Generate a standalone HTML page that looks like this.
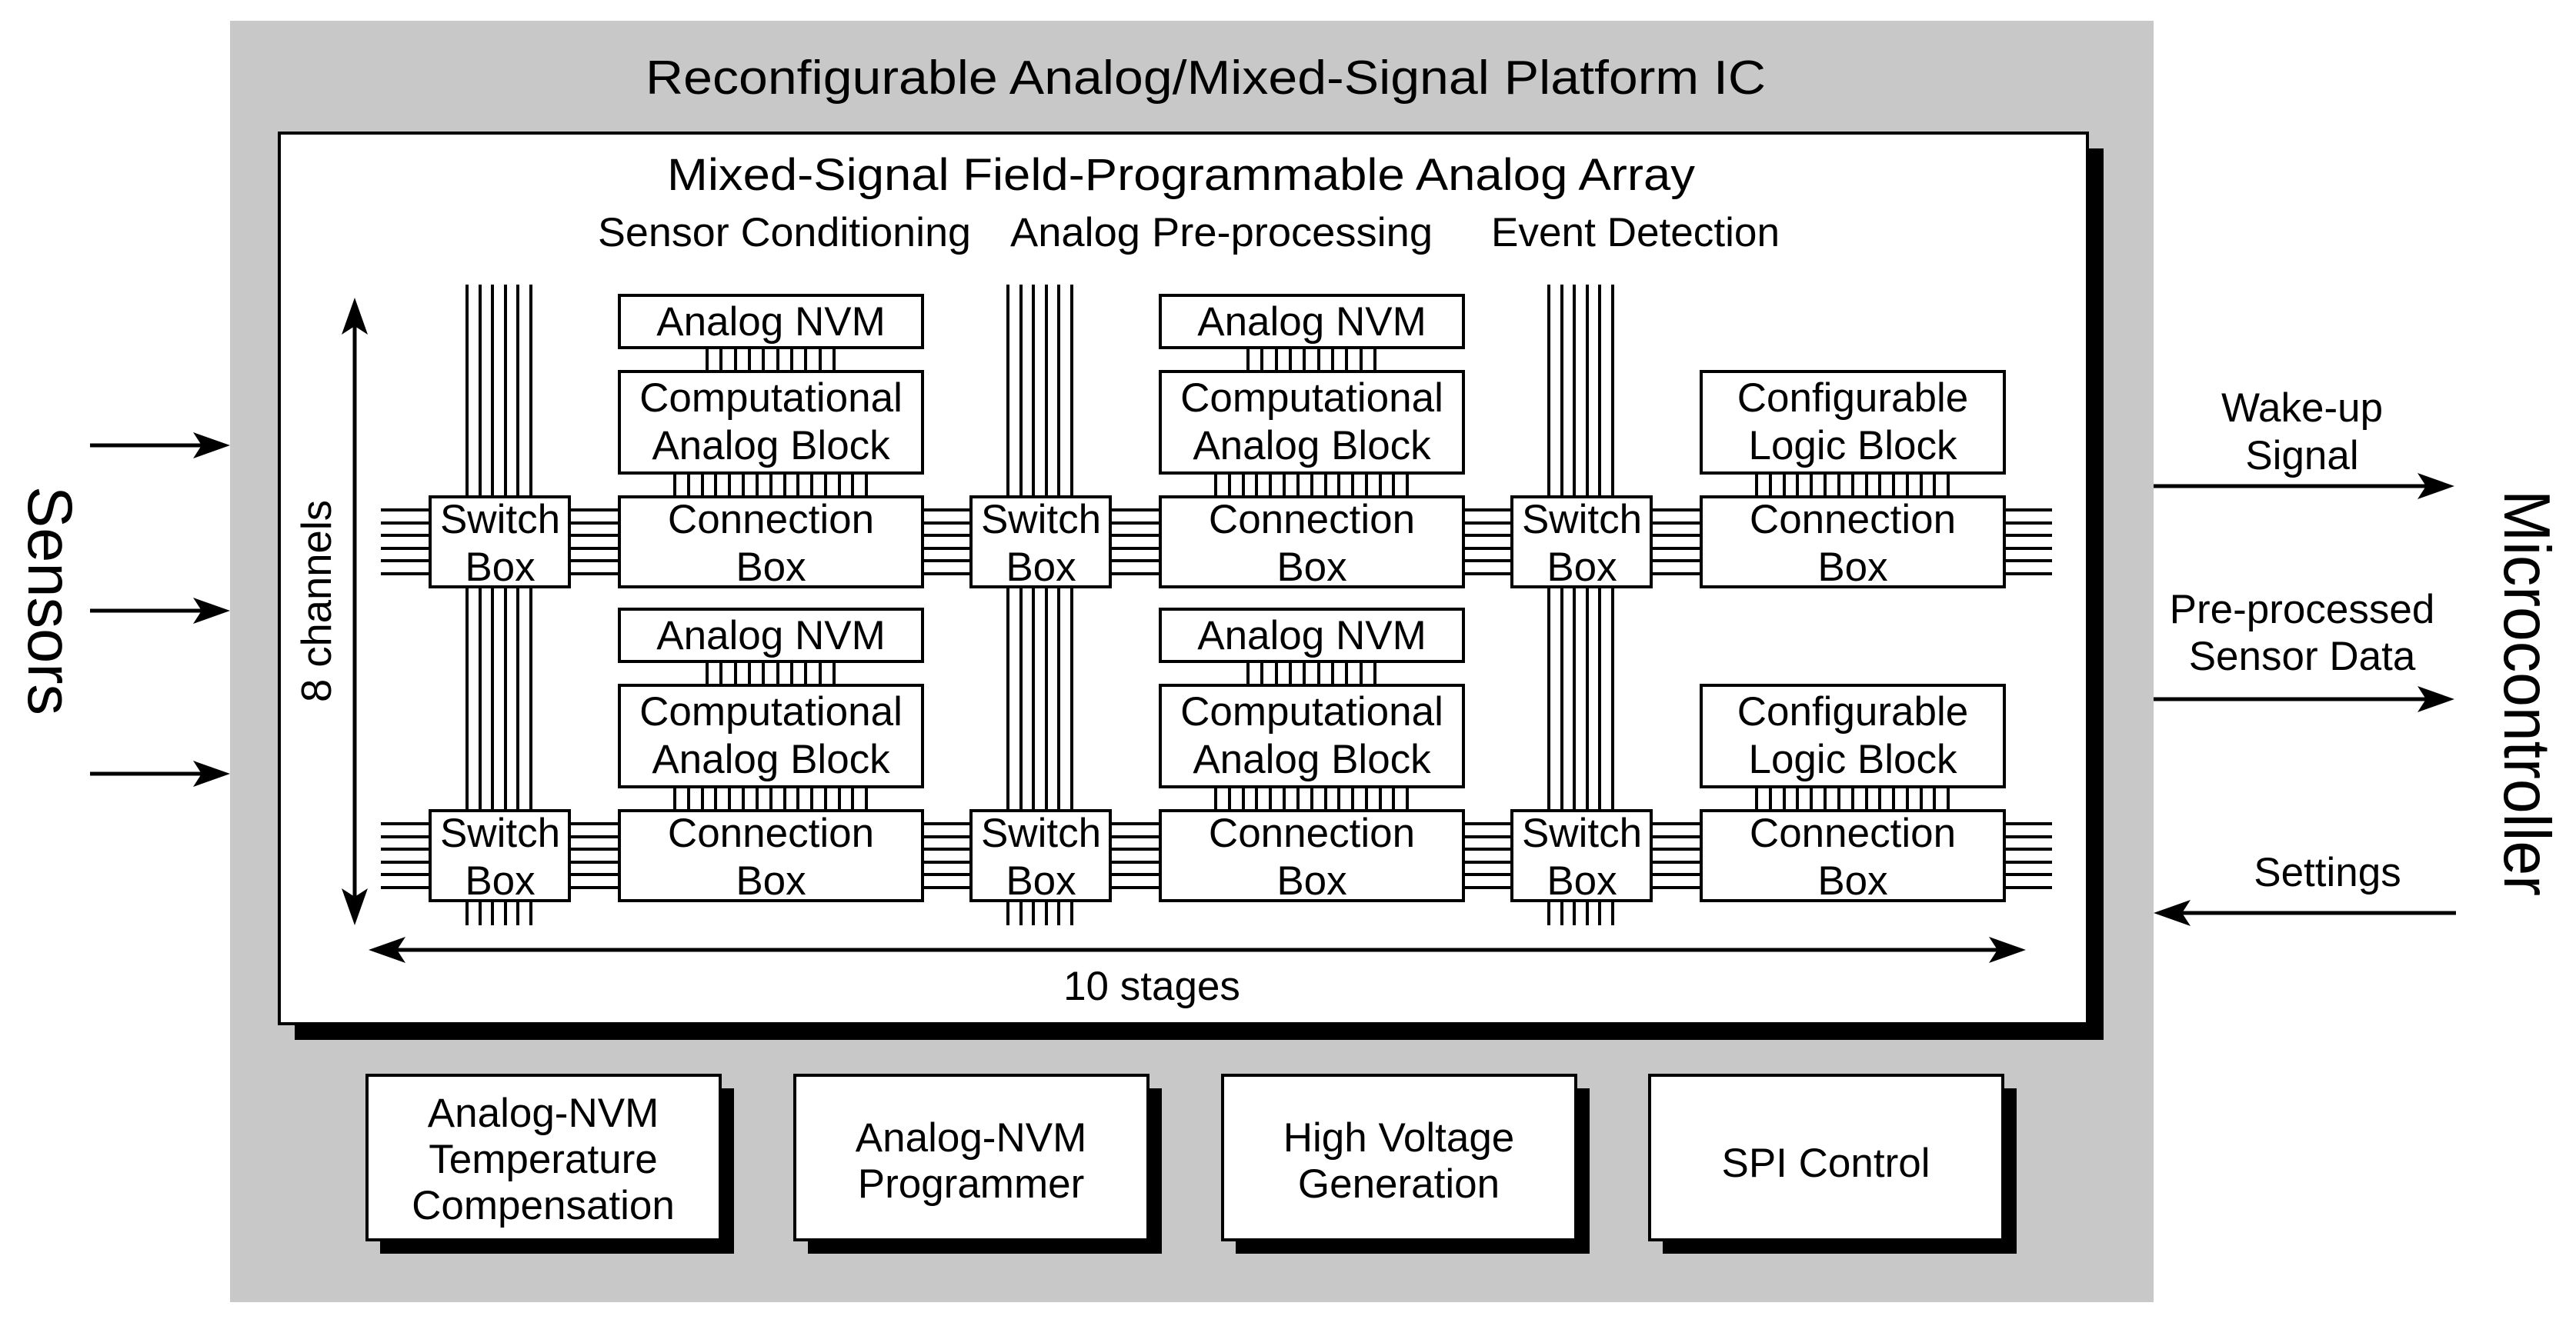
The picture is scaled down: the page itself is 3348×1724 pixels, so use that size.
<!DOCTYPE html>
<html><head><meta charset="utf-8"><style>
html,body{margin:0;padding:0;background:#fff;}
svg{display:block;}
text{font-family:"Liberation Sans",Arial,sans-serif;fill:#000;}
</style></head><body>
<svg width="3348" height="1724" viewBox="0 0 3348 1724" xmlns="http://www.w3.org/2000/svg">
<defs>
<g id="colA">
  <!-- switch verticals -->
  <path d="M607 370V1203M624 370V1203M640 370V1203M657 370V1203M673 370V1203M690 370V1203" stroke="#000" stroke-width="4" fill="none"/>
  <!-- NVM-CAB lines row1 and row2 -->
  <path d="M919 450V486M937 450V486M956 450V486M974 450V486M992 450V486M1011 450V486M1029 450V486M1047 450V486M1066 450V486M1084 450V486
           M919 858V894M937 858V894M956 858V894M974 858V894M992 858V894M1011 858V894M1029 858V894M1047 858V894M1066 858V894M1084 858V894" stroke="#000" stroke-width="4"/>
  <g stroke="#000" stroke-width="4" fill="#fff">
    <rect x="559" y="646" width="181" height="117"/>
    <rect x="559" y="1054" width="181" height="117"/>
    <rect x="805" y="384" width="394" height="68"/>
    <rect x="805" y="483" width="394" height="132"/>
    <rect x="805" y="646" width="394" height="117"/>
    <rect x="805" y="792" width="394" height="68"/>
    <rect x="805" y="891" width="394" height="132"/>
    <rect x="805" y="1054" width="394" height="117"/>
  </g>
  <g font-size="53" text-anchor="middle">
    <text x="650" y="693">Switch</text><text x="650" y="755">Box</text>
    <text x="650" y="1101">Switch</text><text x="650" y="1163">Box</text>
    <text x="1002" y="436">Analog NVM</text>
    <text x="1002" y="535">Computational</text><text x="1002" y="597">Analog Block</text>
    <text x="1002" y="693">Connection</text><text x="1002" y="755">Box</text>
    <text x="1002" y="844">Analog NVM</text>
    <text x="1002" y="943">Computational</text><text x="1002" y="1005">Analog Block</text>
    <text x="1002" y="1101">Connection</text><text x="1002" y="1163">Box</text>
  </g>
</g>
<path id="cablines" d="M877 613V648M895 613V648M913 613V648M930 613V648M948 613V648M966 613V648M984 613V648M1002 613V648M1020 613V648M1037 613V648M1055 613V648M1073 613V648M1091 613V648M1108 613V648M1126 613V648" stroke="#000" stroke-width="4"/>
</defs>

<!-- outer gray -->
<rect x="299" y="27" width="2500" height="1666" fill="#c8c8c8"/>
<text x="1567" y="122" font-size="62" text-anchor="middle" textLength="1456" lengthAdjust="spacingAndGlyphs">Reconfigurable Analog/Mixed-Signal Platform IC</text>

<!-- inner box with shadow -->
<rect x="383" y="193" width="2351" height="1159" fill="#000"/>
<rect x="363" y="173" width="2350" height="1158" fill="#fff" stroke="#000" stroke-width="4"/>

<text x="1535" y="247" font-size="58" text-anchor="middle" textLength="1336" lengthAdjust="spacingAndGlyphs">Mixed-Signal Field-Programmable Analog Array</text>
<text x="777" y="320" font-size="53" textLength="485" lengthAdjust="spacingAndGlyphs">Sensor Conditioning</text>
<text x="1313" y="320" font-size="53" textLength="549" lengthAdjust="spacingAndGlyphs">Analog Pre-processing</text>
<text x="1938" y="320" font-size="53" textLength="375" lengthAdjust="spacingAndGlyphs">Event Detection</text>

<!-- horizontal channel lines -->
<path d="M495 663H2667M495 680H2667M495 696H2667M495 713H2667M495 729H2667M495 746H2667
         M495 1071H2667M495 1088H2667M495 1104H2667M495 1121H2667M495 1137H2667M495 1154H2667" stroke="#000" stroke-width="4"/>

<!-- CAB-CB lines -->
<use href="#cablines"/>
<use href="#cablines" transform="translate(0,408)"/>
<use href="#cablines" transform="translate(703,0)"/>
<use href="#cablines" transform="translate(703,408)"/>
<use href="#cablines" transform="translate(1406,0)"/>
<use href="#cablines" transform="translate(1406,408)"/>

<use href="#colA"/>
<use href="#colA" transform="translate(703,0)"/>

<!-- third column -->
<path d="M2013 370V1203M2030 370V1203M2046 370V1203M2063 370V1203M2079 370V1203M2096 370V1203" stroke="#000" stroke-width="4"/>
<g stroke="#000" stroke-width="4" fill="#fff">
  <rect x="1965" y="646" width="181" height="117"/>
  <rect x="1965" y="1054" width="181" height="117"/>
  <rect x="2211" y="483" width="394" height="132"/>
  <rect x="2211" y="646" width="394" height="117"/>
  <rect x="2211" y="891" width="394" height="132"/>
  <rect x="2211" y="1054" width="394" height="117"/>
</g>
<g font-size="53" text-anchor="middle">
  <text x="2056" y="693">Switch</text><text x="2056" y="755">Box</text>
  <text x="2056" y="1101">Switch</text><text x="2056" y="1163">Box</text>
  <text x="2408" y="535">Configurable</text><text x="2408" y="597">Logic Block</text>
  <text x="2408" y="693">Connection</text><text x="2408" y="755">Box</text>
  <text x="2408" y="943">Configurable</text><text x="2408" y="1005">Logic Block</text>
  <text x="2408" y="1101">Connection</text><text x="2408" y="1163">Box</text>
</g>

<!-- 8 channels arrow -->
<path d="M461 420V1170" stroke="#000" stroke-width="5"/>
<path d="M461 387L478 435L461 424L444 435Z" fill="#000"/>
<path d="M461 1203L478 1155L461 1166L444 1155Z" fill="#000"/>
<text transform="translate(430,913) rotate(-90)" font-size="55" textLength="263" lengthAdjust="spacingAndGlyphs">8 channels</text>

<!-- 10 stages arrow -->
<path d="M510 1235H2600" stroke="#000" stroke-width="5"/>
<path d="M479 1235L527 1218L516 1235L527 1252Z" fill="#000"/>
<path d="M2633 1235L2585 1218L2596 1235L2585 1252Z" fill="#000"/>
<text x="1497" y="1300" font-size="53" text-anchor="middle">10 stages</text>

<!-- bottom boxes -->
<g fill="#000">
  <rect x="494" y="1415" width="460" height="215"/>
  <rect x="1050" y="1415" width="460" height="215"/>
  <rect x="1606" y="1415" width="460" height="215"/>
  <rect x="2161" y="1415" width="460" height="215"/>
</g>
<g fill="#fff" stroke="#000" stroke-width="4">
  <rect x="477" y="1398" width="459" height="214"/>
  <rect x="1033" y="1398" width="459" height="214"/>
  <rect x="1589" y="1398" width="459" height="214"/>
  <rect x="2144" y="1398" width="459" height="214"/>
</g>
<g font-size="53" text-anchor="middle">
  <text x="706" y="1465">Analog-NVM</text>
  <text x="706" y="1525">Temperature</text>
  <text x="706" y="1585">Compensation</text>
  <text x="1262" y="1497">Analog-NVM</text>
  <text x="1262" y="1557">Programmer</text>
  <text x="1818" y="1497">High Voltage</text>
  <text x="1818" y="1557">Generation</text>
  <text x="2373" y="1530">SPI Control</text>
</g>

<!-- Sensors -->
<text transform="translate(37,632) rotate(90)" font-size="82" textLength="298" lengthAdjust="spacingAndGlyphs">Sensors</text>
<g stroke="#000" stroke-width="5">
  <path d="M117 579H270M117 794H270M117 1006H270"/>
</g>
<g fill="#000">
  <path d="M299 579L251 562L262 579L251 596Z"/>
  <path d="M299 794L251 777L262 794L251 811Z"/>
  <path d="M299 1006L251 989L262 1006L251 1023Z"/>
</g>

<!-- right side -->
<text transform="translate(3255,637) rotate(90)" font-size="85" textLength="528" lengthAdjust="spacingAndGlyphs">Microcontroller</text>
<g font-size="53" text-anchor="middle">
  <text x="2992" y="548">Wake-up</text>
  <text x="2992" y="610">Signal</text>
  <text x="2992" y="810">Pre-processed</text>
  <text x="2992" y="871">Sensor Data</text>
  <text x="3025" y="1152">Settings</text>
</g>
<path d="M2799 632H3160M2799 909H3160M2830 1187H3192" stroke="#000" stroke-width="5"/>
<g fill="#000">
  <path d="M3190 632L3142 615L3153 632L3142 649Z"/>
  <path d="M3190 909L3142 892L3153 909L3142 926Z"/>
  <path d="M2799 1187L2847 1170L2836 1187L2847 1204Z"/>
</g>
</svg>
</body></html>
